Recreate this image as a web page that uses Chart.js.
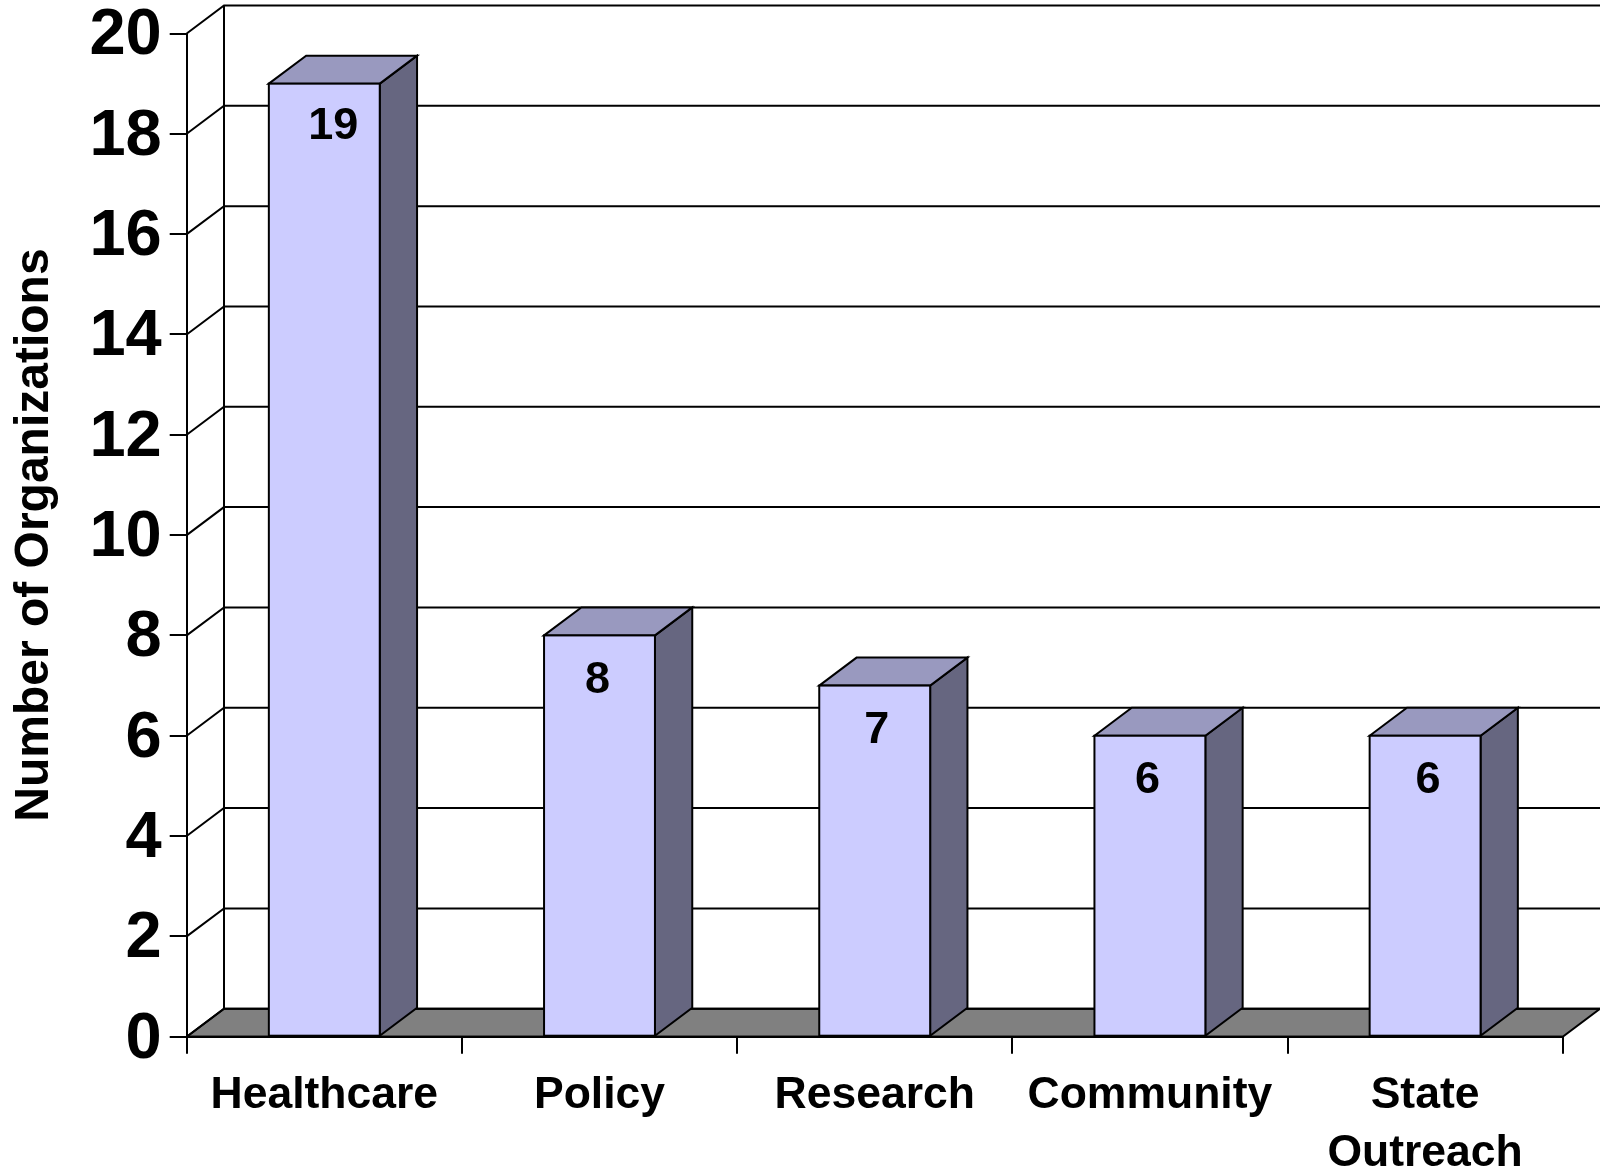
<!DOCTYPE html>
<html><head><meta charset="utf-8">
<style>html,body{margin:0;padding:0;background:#fff}canvas{display:block}</style>
<script src="https://cdn.jsdelivr.net/npm/chart.js@4"></script>
</head><body>
<div style="width:1600px;height:1170px"><canvas id="c" width="1600" height="1170"></canvas></div>
<script>
const categories = ["Healthcare","Policy","Research","Community",["State","Outreach"]];
const values = [19,8,7,6,6];
const yTicks = [0,2,4,6,8,10,12,14,16,18,20];
const yTitle = "Number of Organizations";
const FONT = '"Liberation Sans", Arial, sans-serif';
const DX = 37.3, DY = -28;
const labelOffsets = [[9,43],[-2,45],[2,45],[-2.5,45],[3,45]];

const threeD = {
  id:'threeD',
  beforeDatasetsDraw(chart){
    const {ctx,chartArea:a,scales:{x,y}} = chart;
    ctx.save();
    ctx.strokeStyle='#000'; ctx.lineWidth=2; ctx.lineJoin='miter';
    const y0=y.getPixelForValue(0);
    ctx.beginPath();
    ctx.moveTo(a.left,y0);ctx.lineTo(a.left+DX,y0+DY);ctx.lineTo(a.right+DX,y0+DY);ctx.lineTo(a.right,y0);ctx.closePath();
    ctx.fillStyle='#808080';ctx.fill();ctx.stroke();
    yTicks.forEach(v=>{
      const p=y.getPixelForValue(v);
      ctx.beginPath();
      ctx.moveTo(a.left,p);ctx.lineTo(a.left+DX,p+DY);ctx.lineTo(a.right+DX,p+DY);ctx.stroke();
    });
    ctx.beginPath();
    ctx.moveTo(a.left+DX,y.getPixelForValue(20)+DY);ctx.lineTo(a.left+DX,y0+DY);ctx.stroke();
    const meta=chart.getDatasetMeta(0);
    meta.data.forEach(b=>{
      const l=b.x-b.width/2,r=b.x+b.width/2,t=b.y,bt=b.base;
      ctx.lineWidth=2;
      ctx.beginPath();ctx.moveTo(r,t);ctx.lineTo(r+DX,t+DY);ctx.lineTo(r+DX,bt+DY);ctx.lineTo(r,bt);ctx.closePath();
      ctx.fillStyle='#666680';ctx.fill();ctx.stroke();
      ctx.beginPath();ctx.moveTo(l,t);ctx.lineTo(l+DX,t+DY);ctx.lineTo(r+DX,t+DY);ctx.lineTo(r,t);ctx.closePath();
      ctx.fillStyle='#9999BF';ctx.fill();ctx.stroke();
    });
    ctx.restore();
  },
  afterDatasetsDraw(chart){
    const {ctx,scales:{y},chartArea:a}=chart;
    ctx.save();
    ctx.strokeStyle='#000';ctx.lineWidth=2;
    chart.getDatasetMeta(0).data.forEach(b=>{
      ctx.strokeRect(b.x-b.width/2,b.y,b.width,b.base-b.y);
    });
    ctx.beginPath();ctx.moveTo(a.left,y.getPixelForValue(0));ctx.lineTo(a.right,y.getPixelForValue(0));ctx.stroke();
    ctx.fillStyle='#000';ctx.font='bold 45px '+FONT;ctx.textAlign='center';ctx.textBaseline='middle';
    chart.getDatasetMeta(0).data.forEach((b,i)=>{
      ctx.fillText(String(values[i]),b.x+labelOffsets[i][0],b.y+labelOffsets[i][1]);
    });
    ctx.restore();
  }
};

new Chart(document.getElementById('c'),{
  type:'bar',
  data:{labels:categories,datasets:[{data:values,backgroundColor:'#CCCCFF',borderWidth:0,categoryPercentage:1,barPercentage:0.403}]},
  plugins:[threeD],
  options:{
    responsive:false,animation:false,
    layout:{padding:{top:33.5,right:37.3,left:0,bottom:0}},
    plugins:{legend:{display:false},tooltip:{enabled:false},title:{display:false}},
    scales:{
      x:{
        afterFit(s){s.height=1170-1036.7;s.paddingLeft=0;s.paddingRight=0;},
        grid:{drawOnChartArea:false,drawTicks:true,tickLength:17,color:'#000',lineWidth:2,offset:true},
        border:{display:true,color:'#000',width:2},
        ticks:{color:'#000',font:{family:FONT,weight:'bold',size:44.5,lineHeight:1.3},padding:13,maxRotation:0,autoSkip:false}
      },
      y:{
        min:0,max:20,
        afterFit(s){s.width=186.7;s.paddingTop=0;s.paddingBottom=0;},
        afterBuildTicks(s){s.ticks=yTicks.map(v=>({value:v}));},
        grid:{drawOnChartArea:false,drawTicks:true,tickLength:17,color:'#000',lineWidth:2},
        border:{display:true,color:'#000',width:2},
        ticks:{color:'#000',font:{family:FONT,weight:'bold',size:65},padding:8,labelOffset:3},
        title:{display:true,text:yTitle,color:'#000',font:{family:FONT,weight:'bold',size:48},padding:{top:6,bottom:0}}
      }
    }
  }
});
</script></body></html>
